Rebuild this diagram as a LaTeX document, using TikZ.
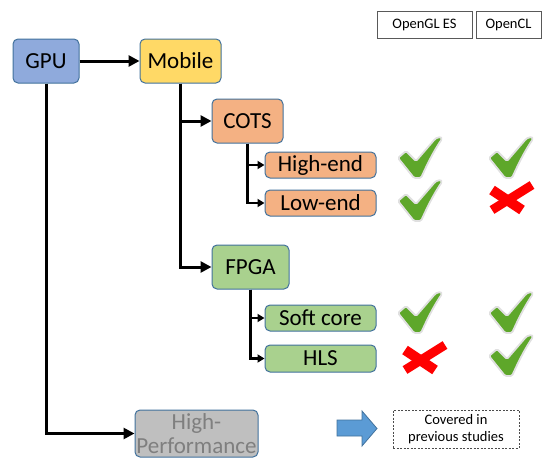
\documentclass[tikz,border=0pt]{standalone}
\usepackage{fontspec}
\setmainfont{Carlito}
\usetikzlibrary{arrows.meta}
\definecolor{gpub}{HTML}{8FAADC}
\definecolor{bord}{HTML}{41719C}
\definecolor{mob}{HTML}{FFD966}
\definecolor{cotsc}{HTML}{F4B183}
\definecolor{fpgac}{HTML}{A9D18E}
\definecolor{hpg}{HTML}{BFBFBF}
\definecolor{hpt}{HTML}{7F7F7F}
\definecolor{chkg}{HTML}{5EA72A}
\definecolor{crossr}{HTML}{FF0000}
\definecolor{arrb}{HTML}{5B9BD5}
\begin{document}
\begin{tikzpicture}[x=1pt,y=-1pt,
  box/.style={draw=bord, line width=1pt, rounded corners=5pt, inner sep=0pt, align=center,
    font=\fontsize{23}{24}\selectfont},
  mainarrow/.style={line width=3pt, -{Triangle[length=11pt,width=11pt]}},
  subarrow/.style={line width=2.5pt, -{Triangle[length=7pt,width=8pt]}},
  hdr/.style={draw=black!65, line width=0.8pt, inner sep=0pt, minimum height=27pt,
    font=\fontsize{14.5}{16}\selectfont},
  chk/.pic={
    \draw[fill=chkg, draw=black!12, line width=1.8pt, line join=round, rounded corners=1.5pt]
      (-21,1) -- (-13,-6) -- (-3,4) -- (16,-18) .. controls (19,-20) and (22,-20) .. (23,-18)
      .. controls (14,-5) and (7,10) .. (2,21) -- (-5,21) -- cycle;
  },
  crs/.pic={
    \draw[crossr, line width=10pt] (-19,-8) -- (11,12);
    \draw[crossr, line width=9pt] (-19,12) -- (21,-13);
  }
]
\useasboundingbox (0,0) rectangle (542,458);

% tree nodes
\node[box, fill=gpub, minimum width=66pt, minimum height=44pt] (gpu) at (46,61) {GPU};
\node[box, fill=mob, minimum width=81pt, minimum height=44pt] (mobile) at (180.5,61) {Mobile};
\node[box, fill=cotsc, minimum width=71pt, minimum height=44pt] (cots) at (247.5,121) {COTS};
\node[box, fill=cotsc, minimum width=111pt, minimum height=26pt] (high) at (320.5,165) {High-end};
\node[box, fill=cotsc, minimum width=111pt, minimum height=26pt] (low) at (320.5,203) {Low-end};
\node[box, fill=fpgac, minimum width=77pt, minimum height=44pt] (fpga) at (250.5,267) {FPGA};
\node[box, fill=fpgac, minimum width=111pt, minimum height=26pt] (soft) at (320.5,318) {Soft core};
\node[box, fill=fpgac, minimum width=111pt, minimum height=27pt] (hls) at (320.5,358.5) {HLS};
\node[box, fill=hpg, text=hpt, minimum width=123pt, minimum height=47pt] (hp) at (196.5,433.5) {High-\\Performance};

% connectors
\draw[mainarrow] (gpu) -- (mobile);
\draw[mainarrow] (gpu.south) |- (hp.west);
\draw[mainarrow] (mobile.south) |- (cots.west);
\draw[mainarrow] (mobile.south) |- (fpga.west);
\draw[subarrow] (cots.south) |- (high.west);
\draw[subarrow] (cots.south) |- (low.west);
\draw[subarrow] (fpga.south) |- (soft.west);
\draw[subarrow] (fpga.south) |- (hls.west);

% header
\node[hdr, minimum width=95pt] (gles) at (424.5,24.5) {OpenGL ES};
\node[hdr, minimum width=65pt] (gcl) at (508.5,24.5) {OpenCL};

% marks
\pic at (419,157) {chk};
\pic at (510,157) {chk};
\pic at (419,200) {chk};
\pic at (511,198) {crs};
\pic at (419,312) {chk};
\pic at (510,312) {chk};
\pic at (424,358) {crs};
\pic at (510,355) {chk};

% legend
\draw[fill=arrb, draw=bord, line width=0.8pt] (337,420) -- (362,420) -- (362,411) -- (377,428.5)
  -- (362,446) -- (362,436) -- (337,436) -- cycle;
\node[draw=black!70, dashed, dash pattern=on 2pt off 1.5pt, line width=0.7pt, minimum width=126pt,
  minimum height=38pt, inner sep=0pt, align=center, font=\fontsize{14.5}{17}\selectfont]
  (legend) at (456,429) {Covered in\\previous studies};
\end{tikzpicture}
\end{document}
